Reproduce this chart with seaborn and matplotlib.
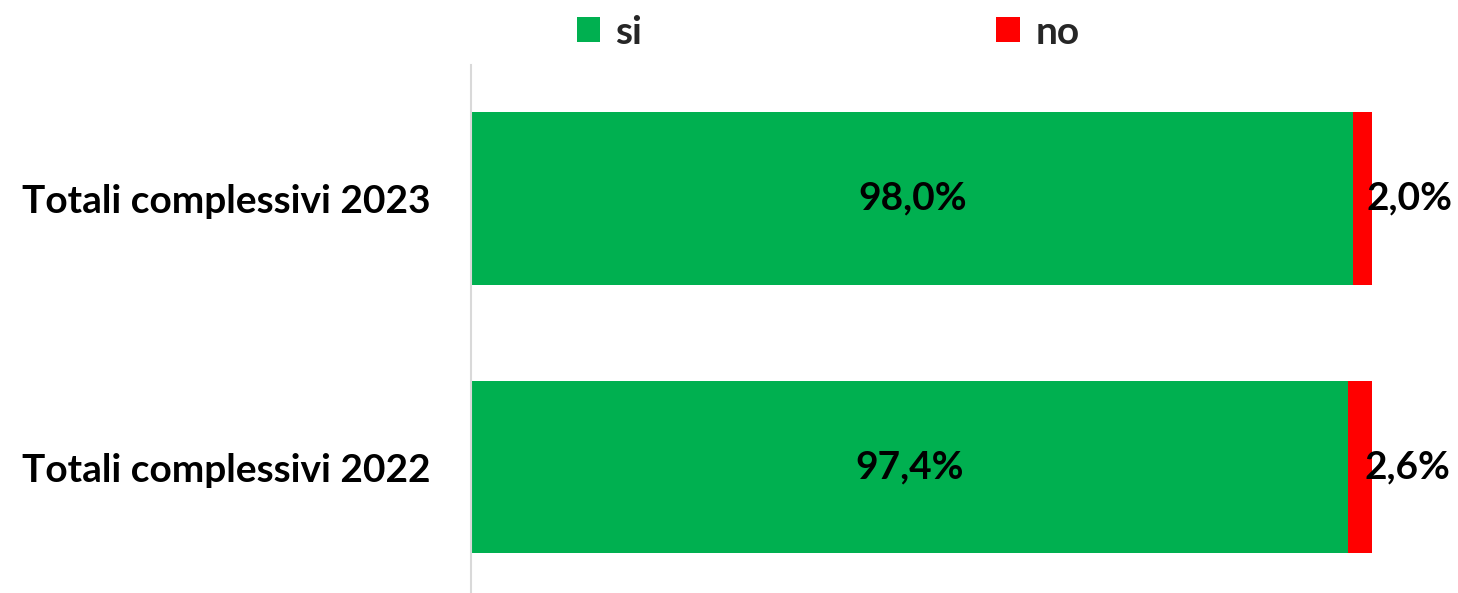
import matplotlib
matplotlib.use("Agg")
import matplotlib.pyplot as plt
import seaborn as sns
import pandas as pd
from matplotlib.patches import Patch

categories = ["Totali complessivi 2023", "Totali complessivi 2022"]
si_values = [98.0, 97.4]
no_values = [2.0, 2.6]
series_names = ["si", "no"]

GREEN = "#00B050"
RED = "#FF0000"
FS = 28

sns.set_theme(style="white")
plt.rcParams['font.family'] = ['Lato', 'DejaVu Sans']
plt.rcParams['font.weight'] = 'bold'

df = pd.DataFrame({"cat": categories, "si": si_values, "no": no_values})
df["total"] = df["si"] + df["no"]

fig = plt.figure(figsize=(14.58, 5.93), dpi=100)
ax = fig.add_axes([471/1458, 0.0, 900.5/1458, 1 - 65/593])

sns.barplot(data=df, y="cat", x="total", orient="h", color=RED, width=0.643,
            saturation=1, ax=ax, order=categories, linewidth=0, edgecolor="none")
sns.barplot(data=df, y="cat", x="si", orient="h", color=GREEN, width=0.643,
            saturation=1, ax=ax, order=categories, linewidth=0, edgecolor="none")

ax.set_xlim(0, 100)
ax.set_ylim(1.469, -0.497)
ax.set_xlabel("")
ax.set_ylabel("")
ax.set_xticks([])
for s in ["top", "right", "bottom"]:
    ax.spines[s].set_visible(False)
ax.spines["left"].set_color("#D9D9D9")
ax.spines["left"].set_linewidth(1.5)
ax.tick_params(axis="y", length=0, pad=29, labelsize=FS)
for lbl in ax.get_yticklabels():
    lbl.set_fontweight("bold")
    lbl.set_color("black")

for i, (s, n) in enumerate(zip(si_values, no_values)):
    ax.text(s / 2, i, f"{s:.1f}%".replace(".", ","), ha="center", va="center",
            fontsize=FS, fontweight="bold", color="black")
    ax.text(s + n / 2 + 0.5, i, f"{n:.1f}%".replace(".", ","), ha="left", va="center",
            fontsize=FS, fontweight="bold", color="black")

handles = [Patch(facecolor=GREEN, edgecolor="none"), Patch(facecolor=RED, edgecolor="none")]
leg = fig.legend(handles, series_names, loc="center", bbox_to_anchor=(828/1458, 1 - 32/593),
                 ncol=2, frameon=False, fontsize=FS, handlelength=0.6, handleheight=0.6,
                 handletextpad=0.4, columnspacing=9.1)
for t in leg.get_texts():
    t.set_fontweight("bold")

fig.savefig("out.png", dpi=100)
